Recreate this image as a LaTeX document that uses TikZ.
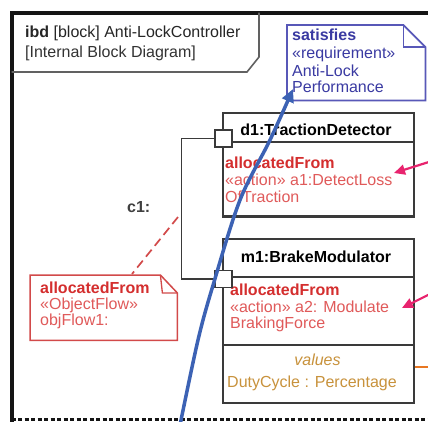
\documentclass[tikz,border=0pt]{standalone}
\usepackage{fontspec}
\setmainfont{Liberation Sans}
\usetikzlibrary{arrows.meta}
\definecolor{frameblack}{HTML}{151515}
\definecolor{boxgray}{HTML}{3A3A3A}
\definecolor{redbold}{HTML}{D42E2E}
\definecolor{redtxt}{HTML}{E05A5A}
\definecolor{redline}{HTML}{D24A4A}
\definecolor{notebl}{HTML}{5858B8}
\definecolor{notetxt}{HTML}{3A3AA2}
\definecolor{bluearr}{HTML}{3C62B4}
\definecolor{pinkarr}{HTML}{E8246E}
\definecolor{valtxt}{HTML}{C8923C}
\definecolor{orangeln}{HTML}{E87722}
\begin{document}
\begin{tikzpicture}[x=1pt,y=-1pt,
  font=\fontsize{16}{17}\selectfont,
  txt/.style={inner sep=0pt, anchor=base west},
  ctxt/.style={inner sep=0pt, anchor=base},
  blockbox/.style={draw=boxgray, line width=1.6pt, fill=white, inner sep=0pt, anchor=north west},
  portbox/.style={draw=boxgray, line width=1.5pt, fill=white, inner sep=0pt, minimum size=17pt},
  ghost/.style={inner sep=0pt, anchor=north west},
  pinkarrow/.style={draw=pinkarr, line width=2.2pt, -{Triangle[length=11pt,width=10pt]}},
]
\useasboundingbox (0,0) rectangle (428,421);
\clip (0,0) rectangle (428,421);
\fill[white] (0,0) rectangle (428,421);

% frame
\draw[frameblack, line width=4pt] (11.5,440) -- (11.5,12.5) -- (440,12.5);
\draw[frameblack, line width=3pt, dash pattern=on 4pt off 2.5pt] (11.5,419) -- (440,419);
% title box
\draw[boxgray!80, line width=1.6pt] (11.5,72) -- (247,72) -- (259,57) -- (259,12.5);
\node[txt, text=black!85] (title1) at (25,37) {\textbf{ibd} [block] Anti-LockController};
\node[txt, text=black!80] (title2) at (25,57) {[Internal Block Diagram]};

% satisfies note
\node[ghost, minimum width=138pt, minimum height=75pt] (sat) at (287,25) {};
\draw[notebl, line width=1.8pt, fill=white] (sat.north west) -- ([xshift=-22pt]sat.north east) -- ([yshift=-22pt]sat.north east) -- (sat.south east) -- (sat.south west) -- cycle;
\draw[notebl, line width=1.5pt] ([xshift=-22pt]sat.north east) -- ([xshift=-22pt,yshift=-22pt]sat.north east) -- ([yshift=-22pt]sat.north east);
\node[txt, text=notetxt] (sat1) at (292,40) {\textbf{satisfies}};
\node[txt, text=notetxt] (sat2) at (292,58) {«requirement»};
\node[txt, text=notetxt] (sat3) at (292,76) {Anti-Lock};
\node[txt, text=notetxt] (sat4) at (292,92) {Performance};

% TractionDetector block
\node[blockbox, minimum width=191pt, minimum height=103pt] (td) at (222,112) {};
\draw[boxgray, line width=2.4pt] (td.south west) -- (td.south east);
\draw[boxgray, line width=1.6pt] (td.west |- 0,142) -- (td.east |- 0,142);
\node[ctxt] (tdname) at (316,135) {\textbf{d1:TractionDetector}};
\node[txt, text=redbold] (td1) at (225,168) {\textbf{allocatedFrom}};
\node[txt, text=redtxt] (td2) at (225,185) {«action» a1:DetectLoss};
\node[txt, text=redtxt] (td3) at (225,202) {OfTraction};

% BrakeModulator block
\node[blockbox, minimum width=191pt, minimum height=164pt] (bm) at (222,238) {};
\draw[boxgray, line width=1.6pt] (bm.west |- 0,277) -- (bm.east |- 0,277);
\draw[boxgray, line width=1.6pt] (bm.west |- 0,345) -- (bm.east |- 0,345);
\node[ctxt] (bmname) at (316,262) {\textbf{m1:BrakeModulator}};
\node[txt, text=redbold] (bm1) at (230,295) {\textbf{allocatedFrom}};
\node[txt, text=redtxt] (bm2) at (230,312) {«action» a2: Modulate};
\node[txt, text=redtxt] (bm3) at (230,328) {BrakingForce};
\node[ctxt, text=valtxt] (bmval) at (317.5,365) {\textit{values}};
\node[txt, text=valtxt] (bmduty) at (227,387) {DutyCycle : Percentage};

% ports
\node[portbox] (p1) at (223.5,138.5) {};
\node[portbox] (p2) at (223.5,279) {};

% connector c1
\draw[boxgray, line width=1.5pt] (p1.west) -- ++(-33,0) coordinate (c1top) |- (p2.west);
\node[txt, text=black!75] (c1lab) at (127,212) {\textbf{c1:}};

% objFlow note
\node[ghost, minimum width=147pt, minimum height=65pt] (of) at (30,275) {};
\draw[redline, line width=1.5pt, fill=white] (of.north west) -- ([xshift=-17pt]of.north east) -- ([yshift=-18pt]of.north east) -- (of.south east) -- (of.south west) -- cycle;
\draw[redline, line width=1.3pt] ([xshift=-17pt]of.north east) -- ([xshift=-15pt,yshift=-18pt]of.north east) -- ([yshift=-18pt]of.north east);
\node[txt, text=redbold] (of1) at (40,293) {\textbf{allocatedFrom}};
\node[txt, text=redtxt] (of2) at (40,309) {«ObjectFlow»};
\node[txt, text=redtxt] (of3) at (40,325) {objFlow1:};

% dashed allocation line
\coordinate (dashA) at (178,217);
\coordinate (dashB) at (132,274);
\draw[redline, line width=1.7pt, dash pattern=on 9pt off 5pt] (dashA) -- (dashB);

% blue satisfy arrow
\coordinate (bstart) at (179,430);
\coordinate (btip) at (293,89);
\draw[bluearr, line width=3.5pt, -{Triangle[length=13pt,width=12pt]}]
  plot[smooth, tension=0.55] coordinates {(bstart) (198,340) (214,282) (240,200) (270,140) (btip)};

% pink arrows
\coordinate (pk1s) at (432,161);
\coordinate (pk1t) at (394,173);
\coordinate (pk2s) at (432,293);
\coordinate (pk2t) at (402,308);
\draw[pinkarrow] (pk1s) -- (pk1t);
\draw[pinkarrow] (pk2s) -- (pk2t);

% orange value line
\coordinate (orend) at (440,367);
\draw[orangeln, line width=2.5pt] (bm.east |- orend) -- (orend);
\end{tikzpicture}
\end{document}
